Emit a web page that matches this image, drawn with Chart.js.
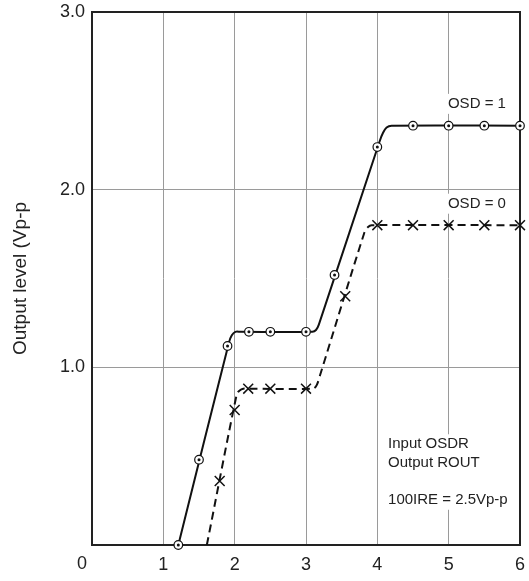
<!DOCTYPE html>
<html>
<head>
<meta charset="utf-8">
<script src="https://cdn.jsdelivr.net/npm/chart.js@4.4.1/dist/chart.umd.min.js"></script>
<style>
    html, body { margin: 0; padding: 0; background: #fff; }
    #chart { display: block; }
</style>
</head>
<body>
<canvas id="chart" width="529" height="581"></canvas>
<script>
// tick labels
const xTicks = ['0', '1', '2', '3', '4', '5', '6'];
const yTicks = ['1.0', '2.0', '3.0'];

// OSD = 1 curve (solid) and its marked points
const osd1LineX = [1.21, 1.92, 1.96, 2.01, 2.08, 3.09, 3.14, 3.18, 4.03, 4.08, 4.13, 4.2, 6.0];
const osd1LineY = [0, 1.14, 1.18, 1.2, 1.2, 1.2, 1.21, 1.24, 2.27, 2.32, 2.35, 2.36, 2.36];
const osd1MarkX = [1.21, 1.5, 1.9, 2.2, 2.5, 3.0, 3.4, 4.0, 4.5, 5.0, 5.5, 6.0];
const osd1MarkY = [0, 0.48, 1.12, 1.2, 1.2, 1.2, 1.52, 2.24, 2.36, 2.36, 2.36, 2.36];

// OSD = 0 curve (dashed) and its marked points
const osd0LineX = [1.61, 2.03, 2.07, 2.12, 2.18, 3.1, 3.15, 3.2, 3.82, 3.87, 3.92, 6.0];
const osd0LineY = [0, 0.85, 0.87, 0.88, 0.88, 0.88, 0.9, 0.96, 1.76, 1.79, 1.8, 1.8];
const osd0MarkX = [1.79, 2.0, 2.19, 2.5, 3.0, 3.55, 4.0, 4.5, 5.0, 5.5, 6.0];
const osd0MarkY = [0.36, 0.76, 0.88, 0.88, 0.88, 1.4, 1.8, 1.8, 1.8, 1.8, 1.8];

// text notes placed in data units
const notes = [
    { lines: ['OSD = 1'], x: 4.99, y: 2.483 },
    { lines: ['OSD = 0'], x: 4.99, y: 1.921 },
    { lines: ['Input OSDR', 'Output ROUT', '', '100IRE = 2.5Vp-p'], x: 4.15, y: 0.567 }
];

const FONT = '"Liberation Sans", Arial, sans-serif';
const INK = '#111';

const toPoints = (xs, ys) => xs.map((x, i) => ({ x: x, y: ys[i] }));

const framePlugin = {
    id: 'frame',
    beforeDatasetsDraw(chart) {
        const ctx = chart.ctx;
        const xs = chart.scales.x;
        const ys = chart.scales.y;
        const area = chart.chartArea;

        ctx.save();
        ctx.font = '15px ' + FONT;
        ctx.textBaseline = 'middle';
        ctx.textAlign = 'left';
        notes.forEach(n => {
            const px = xs.getPixelForValue(n.x);
            const py = ys.getPixelForValue(n.y);
            const step = 18.5;
            const w = Math.max(...n.lines.map(l => ctx.measureText(l).width));
            ctx.fillStyle = '#fff';
            ctx.fillRect(px - 3, py - 10, w + 6, step * (n.lines.length - 1) + 20);
            ctx.fillStyle = '#222';
            n.lines.forEach((l, i) => ctx.fillText(l, px, py + i * step));
        });

        ctx.strokeStyle = '#222';
        ctx.lineWidth = 2;
        ctx.strokeRect(area.left, area.top, area.right - area.left, area.bottom - area.top);
        ctx.restore();
    },
    afterDraw(chart) {
        // shared origin label sits a little left of the corner
        const ctx = chart.ctx;
        const xs = chart.scales.x;
        ctx.save();
        ctx.font = '18px ' + FONT;
        ctx.fillStyle = '#222';
        ctx.textAlign = 'center';
        ctx.textBaseline = 'middle';
        ctx.fillText(xTicks[0], xs.getPixelForValue(0) - 10, 564);
        ctx.restore();
    }
};

const ctx = document.getElementById('chart').getContext('2d');
new Chart(ctx, {
    type: 'scatter',
    data: {
        datasets: [
            {
                data: toPoints(osd1LineX, osd1LineY),
                showLine: true,
                borderColor: INK,
                borderWidth: 2,
                tension: 0.3,
                pointRadius: 0,
                order: 5
            },
            {
                data: toPoints(osd0LineX, osd0LineY),
                showLine: true,
                borderColor: INK,
                borderWidth: 2,
                borderDash: [8, 5],
                tension: 0.3,
                pointRadius: 0,
                order: 5
            },
            {
                data: toPoints(osd1MarkX, osd1MarkY),
                pointStyle: 'circle',
                pointRadius: 4.3,
                pointBackgroundColor: '#fff',
                pointBorderColor: INK,
                pointBorderWidth: 1.2,
                clip: false,
                order: 3
            },
            {
                data: toPoints(osd1MarkX, osd1MarkY),
                pointStyle: 'circle',
                pointRadius: 1.5,
                pointBackgroundColor: INK,
                pointBorderWidth: 0,
                clip: false,
                order: 2
            },
            {
                data: toPoints(osd0MarkX, osd0MarkY),
                pointStyle: 'crossRot',
                pointRadius: 7,
                pointBorderColor: INK,
                pointBorderWidth: 1.5,
                clip: false,
                order: 3
            }
        ]
    },
    options: {
        responsive: false,
        animation: false,
        devicePixelRatio: 1,
        layout: {
            padding: { left: 0, right: 9, top: 12, bottom: 0 }
        },
        plugins: {
            legend: { display: false },
            tooltip: { enabled: false }
        },
        scales: {
            x: {
                type: 'linear',
                min: 0,
                max: 6,
                afterFit: s => {
                    s.height = 36;
                    s.paddingLeft = 0;
                    s.paddingRight = 0;
                },
                border: { display: false },
                grid: { color: '#9a9a9a', lineWidth: 1, drawTicks: false },
                ticks: {
                    stepSize: 1,
                    padding: 9,
                    color: '#222',
                    font: { family: FONT, size: 18 },
                    callback: v => (v === 0 ? '' : xTicks[v])
                }
            },
            y: {
                type: 'linear',
                min: 0,
                max: 3,
                afterFit: s => {
                    s.width = 92;
                    s.paddingTop = 0;
                    s.paddingBottom = 0;
                },
                border: { display: false },
                grid: { color: '#9a9a9a', lineWidth: 1, drawTicks: false },
                title: {
                    display: true,
                    text: 'Output level (Vp-p',
                    color: '#222',
                    font: { family: FONT, size: 19 },
                    padding: { top: 9, bottom: 0 }
                },
                ticks: {
                    stepSize: 1,
                    padding: 7,
                    color: '#222',
                    font: { family: FONT, size: 18 },
                    callback: v => (v === 0 ? '' : yTicks[v - 1])
                }
            }
        }
    },
    plugins: [framePlugin]
});
</script>
</body>
</html>
